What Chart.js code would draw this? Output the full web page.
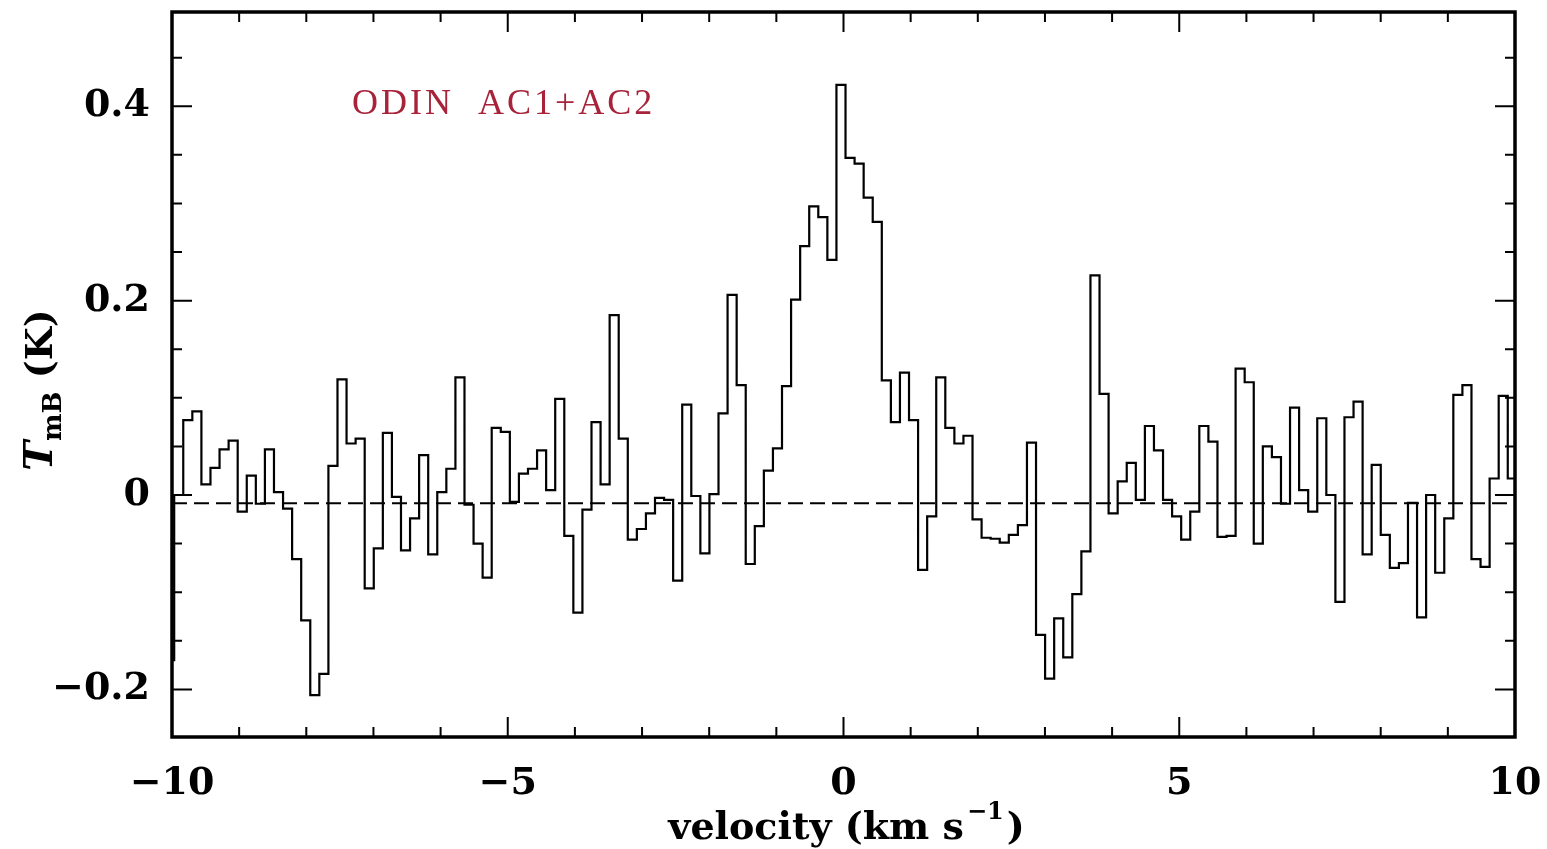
<!DOCTYPE html>
<html>
<head>
<meta charset="utf-8">
<style>
    html, body { margin: 0; padding: 0; background: #fff; }
    #wrap { width: 1547px; height: 849px; position: relative; }
</style>
<script src="https://cdn.jsdelivr.net/npm/chart.js@4.4.1/dist/chart.umd.min.js"></script>
</head>
<body>
<div id="wrap"><canvas id="spec"></canvas></div>
<script>
    // ODIN AC1+AC2 spectrum, main beam temperature per channel
    var V0 = -10.035;      // centre of first channel, km/s
    var DV = 0.1351;       // channel width, km/s
    var tmb = [
        -0.170,  0.000,  0.077,  0.086,  0.011,  0.028,  0.047,  0.056, -0.017,  0.020,
        -0.009,  0.047,  0.003, -0.014, -0.066, -0.129, -0.206, -0.184,  0.030,  0.119,
         0.053,  0.058, -0.096, -0.055,  0.064, -0.002, -0.057, -0.024,  0.041, -0.061,
         0.003,  0.027,  0.121, -0.010, -0.050, -0.085,  0.069,  0.065, -0.007,  0.022,
         0.027,  0.046,  0.005,  0.099, -0.042, -0.121, -0.015,  0.075,  0.011,  0.185,
         0.058, -0.046, -0.035, -0.019, -0.003, -0.005, -0.088,  0.093, -0.001, -0.060,
         0.001,  0.084,  0.206,  0.113, -0.071, -0.032,  0.025,  0.048,  0.112,  0.201,
         0.256,  0.297,  0.286,  0.242,  0.422,  0.347,  0.341,  0.306,  0.281,  0.118,
         0.075,  0.126,  0.077, -0.077, -0.022,  0.121,  0.069,  0.053,  0.061, -0.025,
        -0.044, -0.045, -0.049, -0.041, -0.031,  0.054, -0.144, -0.189, -0.127, -0.167,
        -0.102, -0.058,  0.226,  0.104, -0.019,  0.014,  0.033, -0.005,  0.071,  0.046,
        -0.005, -0.022, -0.046, -0.017,  0.071,  0.055, -0.043, -0.042,  0.130,  0.116,
        -0.050,  0.050,  0.039, -0.009,  0.090,  0.005, -0.017,  0.079,  0.000, -0.110,
         0.080,  0.096, -0.061,  0.031, -0.041, -0.075, -0.070, -0.008, -0.126,  0.000,
        -0.080, -0.024,  0.103,  0.113, -0.066, -0.074,  0.017,  0.102,  0.017,  0.012
    ];
    var baseline = -0.0085;
    var xRange = [-10, 10];
    var yRange = [-0.249, 0.497];
    var xTickValues = [-10, -5, 0, 5, 10];
    var yTickValues = [-0.2, 0, 0.2, 0.4];
    var xTitle = 'velocity (km s';
    var xTitleSup = '\u22121';
    var yTitleMain = 'T';
    var yTitleSub = 'mB';
    var yTitleRest = ' (K)';
    var label = 'ODIN  AC1+AC2';

    var FONT = '"DejaVu Serif", serif';

    function fmtTick(v){
        if (v === 0) return '0';
        return String(v).replace('-', '\u2212');
    }

    var spectrum = tmb.map(function(t, i){
        return { x: V0 + i * DV, y: t };
    });

    var frameTicks = {
        id: 'frameTicks',
        afterDatasetsDraw: function(chart){
            var ctx = chart.ctx, a = chart.chartArea;
            var xs = chart.scales.x, ys = chart.scales.y;
            ctx.save();
            ctx.strokeStyle = '#000';
            ctx.lineWidth = 2;
            ctx.beginPath();
            for (var v = xRange[0]; v <= xRange[1]; v++){
                var px = xs.getPixelForValue(v);
                var len = (v % 5 === 0) ? 20 : 10;
                ctx.moveTo(px, a.bottom); ctx.lineTo(px, a.bottom - len);
                ctx.moveTo(px, a.top); ctx.lineTo(px, a.top + len);
            }
            for (var i = -4; i <= 9; i++){
                var py = ys.getPixelForValue(i * 0.05);
                var l2 = (i % 4 === 0) ? 20 : 10;
                ctx.moveTo(a.left, py); ctx.lineTo(a.left + l2, py);
                ctx.moveTo(a.right, py); ctx.lineTo(a.right - l2, py);
            }
            ctx.stroke();
            ctx.lineWidth = 3.5;
            ctx.strokeRect(a.left, a.top, a.right - a.left, a.bottom - a.top);
            ctx.restore();
        }
    };

    var titles = {
        id: 'titles',
        afterDraw: function(chart){
            var ctx = chart.ctx, a = chart.chartArea;
            var xs = chart.scales.x, ys = chart.scales.y;
            ctx.save();
            ctx.fillStyle = '#000';
            ctx.textBaseline = 'alphabetic';

            // x title with superscript
            ctx.font = 'bold 38px ' + FONT;
            var w1 = ctx.measureText(xTitle).width;
            var w3 = ctx.measureText(')').width;
            ctx.font = 'bold 24px ' + FONT;
            var w2 = ctx.measureText(xTitleSup).width;
            var x0 = (a.left + a.right) / 2 - (w1 + w2 + w3) / 2;
            var yb = 839;
            ctx.font = 'bold 38px ' + FONT;
            ctx.fillText(xTitle, x0, yb);
            ctx.font = 'bold 24px ' + FONT;
            ctx.fillText(xTitleSup, x0 + w1 + 3, yb - 20);
            ctx.font = 'bold 38px ' + FONT;
            ctx.fillText(')', x0 + w1 + w2 + 6, yb);

            // y title, rotated
            ctx.translate(52, 390);
            ctx.rotate(-Math.PI / 2);
            ctx.font = 'bold italic 40px ' + FONT;
            var t1 = ctx.measureText(yTitleMain).width;
            ctx.font = 'bold 26px ' + FONT;
            var t2 = ctx.measureText(yTitleSub).width;
            ctx.font = 'bold 38px ' + FONT;
            var t3 = ctx.measureText(yTitleRest).width;
            var s = -(t1 + t2 + t3) / 2;
            ctx.font = 'bold italic 40px ' + FONT;
            ctx.fillText(yTitleMain, s, 0);
            ctx.font = 'bold 26px ' + FONT;
            ctx.fillText(yTitleSub, s + t1, 9);
            ctx.font = 'bold 38px ' + FONT;
            ctx.fillText(yTitleRest, s + t1 + t2, 0);
            ctx.setTransform(1, 0, 0, 1, 0, 0);

            // annotation
            ctx.fillStyle = '#a8233a';
            ctx.font = '36px "Liberation Serif", serif';
            if ('letterSpacing' in ctx) ctx.letterSpacing = '3px';
            ctx.textBaseline = 'middle';
            ctx.fillText(label, xs.getPixelForValue(-7.32), ys.getPixelForValue(0.402));
            ctx.restore();
        }
    };

    new Chart(document.getElementById('spec'), {
        type: 'line',
        data: {
            datasets: [{
                data: spectrum,
                stepped: 'middle',
                borderColor: '#000',
                borderWidth: 2.2,
                pointRadius: 0,
                fill: false
            }, {
                data: [{ x: xRange[0], y: baseline }, { x: xRange[1], y: baseline }],
                borderColor: '#000',
                borderWidth: 2,
                borderDash: [15, 7],
                pointRadius: 0,
                fill: false
            }]
        },
        options: {
            responsive: true,
            maintainAspectRatio: false,
            animation: false,
            layout: { padding: { top: 12, right: 32, left: 0, bottom: 0 } },
            plugins: {
                legend: { display: false },
                tooltip: { enabled: false }
            },
            scales: {
                x: {
                    type: 'linear',
                    min: xRange[0],
                    max: xRange[1],
                    grid: { display: false, drawTicks: false },
                    border: { display: false },
                    afterBuildTicks: function(scale){
                        scale.ticks = xTickValues.map(function(v){ return { value: v }; });
                    },
                    afterFit: function(scale){
                        scale.height = 112;
                        scale.paddingLeft = 0;
                        scale.paddingRight = 0;
                    },
                    ticks: {
                        padding: 24,
                        maxRotation: 0,
                        color: '#000',
                        font: { family: FONT, size: 38, weight: 'bold' },
                        callback: fmtTick
                    }
                },
                y: {
                    min: yRange[0],
                    max: yRange[1],
                    grid: { display: false, drawTicks: false },
                    border: { display: false },
                    afterBuildTicks: function(scale){
                        scale.ticks = yTickValues.map(function(v){ return { value: v }; });
                    },
                    afterFit: function(scale){
                        scale.width = 172;
                        scale.paddingTop = 0;
                        scale.paddingBottom = 0;
                    },
                    ticks: {
                        padding: 22,
                        color: '#000',
                        font: { family: FONT, size: 38, weight: 'bold' },
                        callback: fmtTick
                    }
                }
            }
        },
        plugins: [frameTicks, titles]
    });
</script>
</body>
</html>
